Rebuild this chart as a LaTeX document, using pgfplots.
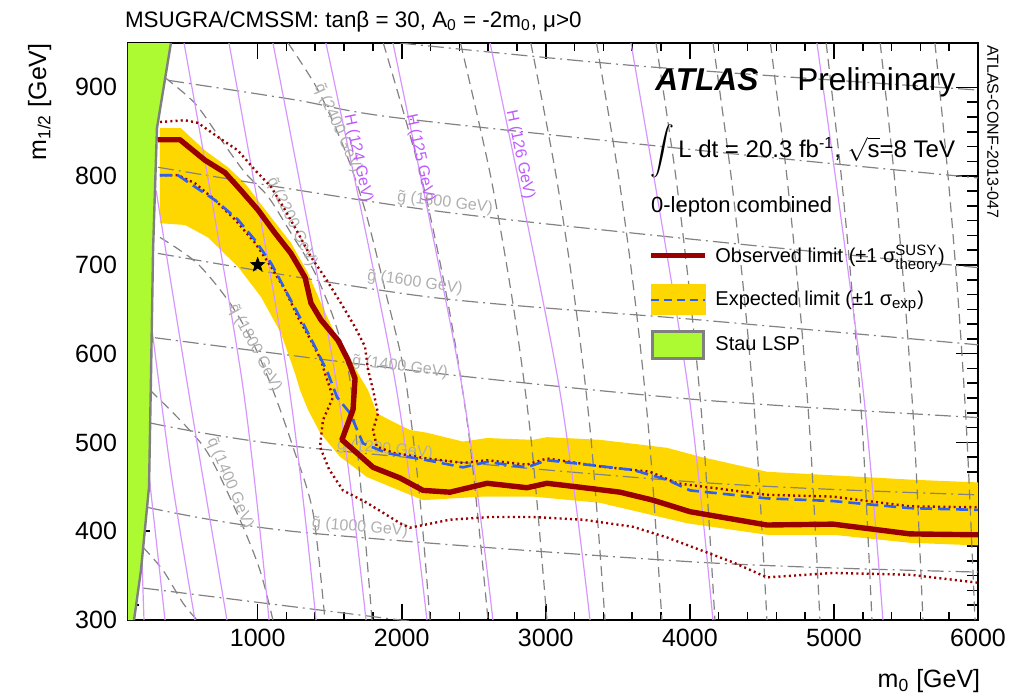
\documentclass[border=0pt]{standalone}
\usepackage{fontspec}
\setmainfont{Liberation Sans}
\usepackage{amsmath}
\usepackage{pgfplots}
\pgfplotsset{compat=1.18}

\definecolor{obsred}{RGB}{153,0,0}
\definecolor{expblue}{RGB}{45,95,245}
\definecolor{bandyellow}{RGB}{255,215,0}
\definecolor{staugreen}{RGB}{173,250,50}
\definecolor{hviolet}{RGB}{215,150,255}
\definecolor{hlabel}{RGB}{190,90,255}
\definecolor{cgray}{RGB}{130,130,130}
\definecolor{lgray}{RGB}{175,175,175}

\pgfdeclareplotmark{fstar}{%
  \pgfpathmoveto{\pgfpointpolar{90}{\pgfplotmarksize}}%
  \pgfpathlineto{\pgfpointpolar{126}{0.42\pgfplotmarksize}}%
  \pgfpathlineto{\pgfpointpolar{162}{\pgfplotmarksize}}%
  \pgfpathlineto{\pgfpointpolar{198}{0.42\pgfplotmarksize}}%
  \pgfpathlineto{\pgfpointpolar{234}{\pgfplotmarksize}}%
  \pgfpathlineto{\pgfpointpolar{270}{0.42\pgfplotmarksize}}%
  \pgfpathlineto{\pgfpointpolar{306}{\pgfplotmarksize}}%
  \pgfpathlineto{\pgfpointpolar{342}{0.42\pgfplotmarksize}}%
  \pgfpathlineto{\pgfpointpolar{18}{\pgfplotmarksize}}%
  \pgfpathlineto{\pgfpointpolar{54}{0.42\pgfplotmarksize}}%
  \pgfpathclose\pgfusepathqfillstroke}

\pgfplotsset{
  gl/.style={cgray, line width=0.6pt, dash pattern=on 8pt off 2.5pt on 1pt off 2.5pt, smooth, forget plot},
  sq/.style={cgray, line width=0.6pt, dash pattern=on 5pt off 3pt, smooth, forget plot},
  hl/.style={hviolet, line width=0.6pt, smooth, forget plot},
}
\tikzset{
  glab/.style={lgray, inner sep=0pt, font=\fontsize{8}{9.6}\selectfont},
  hlab/.style={hlabel, inner sep=0pt, font=\fontsize{8}{9.6}\selectfont},
}
\newcommand{\scr}[1]{\text{\fontsize{7.5}{9}\selectfont #1}}

\begin{document}
\begin{tikzpicture}
\useasboundingbox (-64pt,-37.5pt) rectangle (451.5pt,310pt);
\begin{axis}[
  at={(0pt,0pt)}, anchor=south west,
  scale only axis, width=425pt, height=288.5pt,
  xmin=100, xmax=6000, ymin=300, ymax=950,
  clip mode=individual,
  xtick={1000,2000,3000,4000,5000,6000},
  ytick={300,400,500,600,700,800,900},
  minor x tick num=4, minor y tick num=5,
  tick align=inside,
  major tick length=8pt, minor tick length=4pt,
  y tick style={/pgfplots/major tick length=11pt, /pgfplots/minor tick length=5.5pt},
  every tick/.style={black, line width=0.8pt},
  axis line style={line width=1pt},
  /pgf/number format/assume math mode=true,
  /pgf/number format/set thousands separator={},
  tick label style={font=\fontsize{12.5}{15}\selectfont},
  xticklabel style={yshift=-1pt},
  yticklabel style={xshift=-2pt},
  xlabel={m\textsubscript{0} [GeV]},
  xlabel style={at={(axis description cs:1.003,-0.085)}, anchor=north east, inner sep=0pt, font=\fontsize{12.5}{15}\selectfont},
  ylabel={m\textsubscript{1/2} [GeV]},
  ylabel style={at={(axis description cs:-0.104,1)}, anchor=east, inner sep=0pt, font=\fontsize{12.5}{15}\selectfont},
  title={MSUGRA/CMSSM: tanβ = 30, A\textsubscript{0} = -2m\textsubscript{0}, μ>0},
  title style={at={(axis description cs:-0.004,1)}, anchor=base west, inner sep=0pt, yshift=2pt, font=\fontsize{11.2}{13.4}\selectfont},
  legend style={at={(rel axis cs:0.612,0.658)}, anchor=north west, draw=none, fill=none,
     font=\fontsize{10}{12}\selectfont, row sep=7.5pt, inner sep=0pt,
     /tikz/every odd column/.append style={column sep=2pt}},
  legend cell align=left,
]

% expected band
\addplot[fill=bandyellow, draw=none, forget plot] coordinates {
(322,854)(468,854)(634,829)(794,810)(912,792)(1072,758)(1231,725)(1349,691)(1440,657)(1558,615)(1648,593)(1696,578)(1766,559)(1828,533)(1919,525)(2057,514)(2175,511)(2425,501)(2592,505)(2911,503)(3008,506)(3376,503)(3841,494)(4070,484)(4535,467)(4993,463)(5549,458)(6000,455)
(6000,384)(5528,387)(4993,396)(4535,396)(3980,409)(3376,432)(2911,439)(2564,439)(2148,435)(1759,461)(1571,484)(1433,511)(1349,537)(1294,559)(1259,578)(1162,623)(1023,664)(863,698)(655,731)(496,745)(322,747)
} -- cycle;

% gluino contours
\addplot[gl] coordinates {(1988,950)(3654,924)(6000,897)};
\addplot[gl] coordinates {(378,908)(1259,886)(1953,866)(4070,829)(6000,798)};
\addplot[gl] coordinates {(308,810)(2182,762)(4070,728)(6000,697)};
\addplot[gl] coordinates {(308,713)(2182,664)(4070,638)(6000,610)};
\addplot[gl] coordinates {(287,618)(2182,579)(4070,548)(6000,528)};
\addplot[gl] coordinates {(253,522)(1294,495)(4070,455)(6000,441)};
\addplot[gl] coordinates {(232,427)(1294,399)(4070,365)(6000,354)};
\addplot[gl] coordinates {(204,336)(1988,300)(2200,296)};

% squark contours
\addplot[sq] coordinates {(204,382)(343,356)(482,319)(579,300)};
\addplot[sq] coordinates {(253,559)(510,517)(669,484)(877,413)(1016,356)(1106,300)};
\addplot[sq] coordinates {(322,731)(579,702)(808,657)(968,612)(1106,559)(1245,495)(1384,421)(1467,300)};
\addplot[sq] coordinates {(357,911)(565,882)(746,841)(912,804)(1072,777)(1238,734)(1398,691)(1537,635)(1641,570)(1724,435)(1794,300)};
\addplot[sq] coordinates {(1211,950)(1419,897)(1606,829)(1745,762)(1884,672)(2023,574)(2127,435)(2196,300)};
\addplot[sq] coordinates {(1872,950)(2134,800)(2329,650)(2473,500)(2599,300)};
\addplot[sq] coordinates {(2408,950)(2617,800)(2778,650)(2900,500)(3008,300)};
\addplot[sq] coordinates {(2896,950)(3072,800)(3210,650)(3316,500)(3411,300)};
\addplot[sq] coordinates {(3352,950)(3505,800)(3627,650)(3721,500)(3806,300)};
\addplot[sq] coordinates {(3765,950)(3902,800)(4011,650)(4097,500)(4174,300)};
\addplot[sq] coordinates {(4161,950)(4286,800)(4386,650)(4464,500)(4535,300)};
\addplot[sq] coordinates {(4559,950)(4673,800)(4765,650)(4837,500)(4903,300)};
\addplot[sq] coordinates {(4946,950)(5051,800)(5136,650)(5203,500)(5264,300)};
\addplot[sq] coordinates {(5321,950)(5419,800)(5498,650)(5561,500)(5618,300)};
\addplot[sq] coordinates {(5701,950)(5792,800)(5867,650)(5925,500)(5979,300)};

% Higgs mass contours
\addplot[hl] coordinates {(197,368)(211,300)};
\addplot[hl] coordinates {(246,463)(357,300)};
\addplot[hl] coordinates {(267,627)(405,458)(565,300)};
\addplot[hl] coordinates {(295,784)(530,548)(787,300)};
\addplot[hl] coordinates {(489,950)(891,570)(1079,300)};
\addplot[hl] coordinates {(801,950)(1211,570)(1405,300)};
\addplot[hl] coordinates {(1106,950)(1544,570)(1752,300)};
\addplot[hl] coordinates {(1474,950)(1953,570)(2175,300)};
\addplot[hl] coordinates {(1939,950)(2411,570)(2633,300)};
\addplot[hl] coordinates {(2613,950)(3085,570)(3307,300)};
\addplot[hl] coordinates {(3591,950)(3980,570)(4160,300)};
\addplot[hl] coordinates {(4882,950)(5195,570)(5340,300)};

% contour labels
\node[glab, rotate=-7] at (axis cs:2300,770) {\~{g} (1800 GeV)};
\node[glab, rotate=-8] at (axis cs:2092,680) {\~{g} (1600 GeV)};
\node[glab, rotate=-7] at (axis cs:1988,585) {\~{g} (1400 GeV)};
\node[glab, rotate=-5] at (axis cs:1884,492) {\~{g} (1200 GeV)};
\node[glab, rotate=-5] at (axis cs:1710,404) {\~{g} (1000 GeV)};
\node[glab, rotate=-66] at (axis cs:1558,854) {\~{q} (2400 GeV)};
\node[glab, rotate=-64] at (axis cs:1238,748) {\~{q} (2200 GeV)};
\node[glab, rotate=-62] at (axis cs:981,606) {\~{q} (1800 GeV)};
\node[glab, rotate=-67] at (axis cs:808,454) {\~{q} (1400 GeV)};
\node[hlab, rotate=-78] at (axis cs:1696,820) {H (124 GeV)};
\node[hlab, rotate=-78] at (axis cs:2127,820) {H (125 GeV)};
\node[hlab, rotate=-78] at (axis cs:2821,824) {H (126 GeV)};

% stau LSP region
\addplot[fill=staugreen, draw=none, forget plot] coordinates {
(100,300)(142,300)(190,356)(246,450)(260,578)(274,717)(301,854)(398,950)(100,950)} -- cycle;
\addplot[gray, line width=1.2pt, forget plot] coordinates {
(142,300)(190,356)(246,450)(260,578)(274,717)(301,854)(398,950)};

% observed +-1 sigma theory (dotted)
\addplot[obsred, line width=1.2pt, dash pattern=on 1pt off 1.6pt, forget plot] coordinates {
(322,861)(496,863)(586,860)(725,844)(863,829)(981,807)(1093,788)(1190,762)(1280,736)(1370,709)(1467,686)(1578,657)(1676,630)(1745,608)(1766,582)(1801,559)(1835,533)(1801,514)(1828,495)(1950,488)(2175,482)(2425,477)(2592,480)(2869,475)(3008,482)(3376,473)(3723,467)(3911,454)(4535,441)(4993,439)(5528,428)(6000,427)};
\addplot[obsred, line width=1.2pt, dash pattern=on 1pt off 1.6pt, forget plot] coordinates {
(322,801)(447,801)(565,792)(704,773)(843,751)(981,725)(1093,698)(1190,672)(1280,641)(1370,615)(1440,593)(1467,578)(1523,551)(1453,525)(1433,495)(1495,470)(1592,446)(1759,432)(1988,409)(2057,404)(2335,413)(2613,416)(2911,416)(3258,413)(3605,405)(3841,393)(4299,365)(4535,348)(4993,353)(5528,351)(6000,342)};

% expected limit
\addplot[expblue, line width=1.3pt, dash pattern=on 6pt off 3pt, forget plot] coordinates {
(322,801)(447,801)(565,788)(704,773)(863,751)(981,728)(1093,702)(1231,660)(1329,630)(1419,601)(1488,578)(1551,551)(1641,533)(1731,499)(1898,488)(2175,480)(2425,472)(2592,478)(2869,472)(3008,480)(3286,475)(3605,469)(3841,458)(4001,446)(4535,437)(4993,434)(5528,426)(6000,424)};

% observed limit
\addplot[obsred, line width=2.7pt, line join=round, forget plot] coordinates {
(308,841)(461,841)(634,818)(773,804)(884,784)(1002,762)(1120,736)(1231,713)(1329,686)(1370,657)(1440,638)(1558,615)(1627,593)(1676,572)(1662,537)(1585,503)(1662,492)(1801,472)(1988,460)(2148,446)(2335,444)(2592,454)(2869,449)(3008,454)(3216,450)(3515,444)(3744,435)(4001,422)(4535,407)(4993,408)(5528,397)(6000,396)};

% benchmark star
\addplot[only marks, mark=fstar, mark size=3.6pt, black, forget plot] coordinates {(1000,700)};

% texts
\node[anchor=base west, inner sep=0pt, font=\fontsize{15.8}{18}\selectfont\bfseries\itshape] at (rel axis cs:0.620,0.917) {ATLAS};
\node[anchor=base west, inner sep=0pt, font=\fontsize{15.8}{18}\selectfont] at (rel axis cs:0.787,0.917) {Preliminary};
\node[anchor=base west, inner sep=0pt, font=\fontsize{12}{14}\selectfont] at (rel axis cs:0.614,0.8024) {\(\displaystyle\int\)\,L dt = 20.3 fb\textsuperscript{-1}, \(\sqrt{\text{s}}\)=8 TeV};
\node[anchor=base west, inner sep=0pt, font=\fontsize{11}{13}\selectfont] at (rel axis cs:0.615,0.707) {0-lepton combined};
\node[rotate=-90, anchor=west, inner sep=0pt, font=\fontsize{8}{9.6}\selectfont] at (rel axis cs:1.0176,0.997) {ATLAS-CONF-2013-047};

% legend
\addlegendimage{legend image code/.code={\draw[obsred, line width=2.4pt] (0pt,0pt) -- (27pt,0pt);}}
\addlegendentry{Observed limit (±1 \(\text{σ}^{\scr{SUSY}}_{\scr{theory}}\))}
\addlegendimage{legend image code/.code={\fill[bandyellow] (0pt,-7.5pt) rectangle (27pt,7.5pt); \draw[expblue, line width=1.3pt, dash pattern=on 4pt off 2.5pt] (0pt,0pt) -- (27pt,0pt);}}
\addlegendentry{Expected limit (±1 \(\text{σ}_{\scr{exp}}\))}
\addlegendimage{legend image code/.code={\filldraw[fill=staugreen, draw=gray, line width=1.5pt] (0.75pt,-6.75pt) rectangle (26.25pt,6.75pt);}}
\addlegendentry{Stau LSP}
\end{axis}
\end{tikzpicture}
\end{document}
